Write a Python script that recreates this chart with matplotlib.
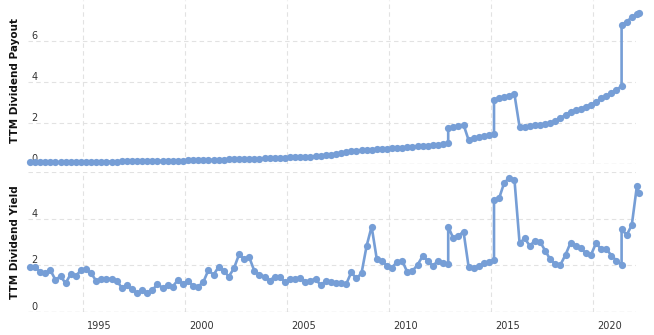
import matplotlib
matplotlib.use('Agg')
import matplotlib.pyplot as plt
import matplotlib.transforms as mtransforms
import pandas as pd

# ---------------- data ----------------
base_dates = pd.date_range('1992-06-01', periods=120, freq='3MS')
jump_positions = [82, 91, 116]          # quarters with a second sample right after a dividend change
latest_date = pd.Timestamp('2022-04-08')

payout = [
    0.08, 0.08, 0.08, 0.09, 0.09, 0.09, 0.09, 0.10, 0.10, 0.10,
    0.10, 0.11, 0.11, 0.11, 0.11, 0.12, 0.12, 0.12, 0.13, 0.13,
    0.13, 0.13, 0.14, 0.14, 0.14, 0.15, 0.15, 0.16, 0.16, 0.17,
    0.17, 0.18, 0.18, 0.19, 0.19, 0.20, 0.20, 0.21, 0.21, 0.22,
    0.22, 0.23, 0.24, 0.25, 0.25, 0.26, 0.27, 0.28, 0.29, 0.30,
    0.31, 0.32, 0.33, 0.34, 0.35, 0.36, 0.38, 0.40, 0.42, 0.45,
    0.50, 0.55, 0.59, 0.62, 0.65, 0.67, 0.69, 0.70, 0.72, 0.73,
    0.74, 0.76, 0.78, 0.80, 0.82, 0.84, 0.86, 0.88, 0.90, 0.93,
    0.95, 0.97, 1.00, 1.77,
    1.82, 1.86, 1.92,
    1.17, 1.25, 1.30, 1.35, 1.40, 1.45, 3.12,
    3.20, 3.28, 3.34, 3.40,
    1.80, 1.82, 1.85, 1.88, 1.92, 1.96,
    2.00, 2.10, 2.25, 2.39,
    2.55, 2.62, 2.68, 2.80, 2.90, 3.00,
    3.20, 3.30, 3.48, 3.62, 3.80, 6.78,
    6.95, 7.15, 7.30,
    7.38,
]

div_yield = [
    1.94, 1.92, 1.73, 1.66, 1.80, 1.37, 1.54, 1.23, 1.63, 1.54,
    1.80, 1.83, 1.66, 1.33, 1.40, 1.40, 1.43, 1.34, 1.04, 1.14,
    0.97, 0.80, 0.94, 0.83, 0.94, 1.19, 1.04, 1.14, 1.09, 1.37,
    1.20, 1.34, 1.12, 1.09, 1.29, 1.80, 1.59, 1.94,
    1.76, 1.52, 1.87, 2.47, 2.27, 2.35, 1.76, 1.59, 1.52, 1.34,
    1.52, 1.52, 1.27, 1.40, 1.43, 1.47, 1.30, 1.34, 1.43, 1.14,
    1.33, 1.27, 1.26, 1.23, 1.19, 1.70, 1.44, 1.66, 2.83, 3.66,
    2.27, 2.19, 1.99, 1.90, 2.16, 2.19, 1.70, 1.76, 2.02,
    2.40, 2.19, 1.97, 2.20, 2.12, 2.06, 3.66,
    3.16, 3.26, 3.45,
    1.94, 1.90, 1.97, 2.09, 2.16, 2.23, 4.80,
    4.88, 5.55, 5.74, 5.67,
    2.95, 3.16, 2.83, 3.06, 3.02, 2.63, 2.26, 2.06, 2.02, 2.45,
    2.97, 2.83, 2.73, 2.52, 2.45, 2.95, 2.69, 2.70, 2.42, 2.20,
    2.02, 3.55,
    3.30, 3.73, 5.38,
    5.12,
]

year_ticks = [1995, 2000, 2005, 2010, 2015, 2020]
top_yticks = [0, 2, 4, 6]
top_ylabels = ['0', '2', '4', '6']
bottom_yticks = [0, 2, 4, 6]
bottom_ylabels = ['0', '2', '4', '']

dates = []
for i, d in enumerate(base_dates):
    dates.append(d)
    if i in jump_positions:
        dates.append(d)
dates.append(latest_date)

# ---------------- styling ----------------
W, H = 654, 335
LINE = '#769ed6'
GRID = '#e2e2e2'
BASE = '#a8a8a8'
TXT = '#333333'

fig = plt.figure(figsize=(W / 100, H / 100), dpi=100)
ax1 = fig.add_axes([28 / W, (H - 164) / H, 608 / W, 164 / H])
ax2 = fig.add_axes([28 / W, (H - 312) / H, 608 / W, 140 / H])

xmin = pd.Timestamp('1992-04-27')
xmax = pd.Timestamp('2022-02-14')
tick_dates = [pd.Timestamp(f'{y}-01-01') for y in year_ticks]

for ax, ys, yt, yl, ylim in ((ax1, payout, top_yticks, top_ylabels, (0, 8)),
                             (ax2, div_yield, bottom_yticks, bottom_ylabels, (0, 6))):
    ax.set_xlim(xmin, xmax)
    ax.set_ylim(*ylim)
    ax.set_axisbelow(True)
    for s in ax.spines.values():
        s.set_visible(False)
    ax.set_xticks(tick_dates)
    ax.set_yticks(yt)
    ax.set_yticklabels(yl)
    ax.grid(True, color=GRID, linestyle=(0, (4, 3)), linewidth=0.8)
    ax.axhline(0, color=BASE, linestyle=(0, (4, 3)), linewidth=0.8, zorder=1)
    ax.tick_params(axis='y', length=0, pad=-2.5, labelsize=7, labelcolor=TXT)
    for lbl in ax.get_yticklabels():
        lbl.set_ha('left')
        lbl.set_va('bottom')
    ax.plot(dates, ys, color=LINE, linewidth=1.9, marker='o', markersize=5.2,
            markeredgewidth=0, clip_on=False, zorder=3)

ax1.tick_params(axis='x', length=0, labelbottom=False)
ax2.set_xticklabels([str(y) for y in year_ticks])
ax2.tick_params(axis='x', length=0, pad=6.5, labelsize=7, labelcolor=TXT)
offset = mtransforms.ScaledTranslation(3 / 72, 0, fig.dpi_scale_trans)
for lbl in ax2.get_xticklabels():
    lbl.set_ha('left')
    lbl.set_transform(lbl.get_transform() + offset)

fig.text(9.5 / W, 1 - 80.5 / H, 'TTM Dividend Payout', rotation=90, ha='left', va='center',
         fontsize=7.5, fontweight='bold', color='#111111')
fig.text(9.5 / W, 1 - 241.7 / H, 'TTM Dividend Yield', rotation=90, ha='left', va='center',
         fontsize=7.5, fontweight='bold', color='#111111')

fig.savefig('out.png', dpi=100)
